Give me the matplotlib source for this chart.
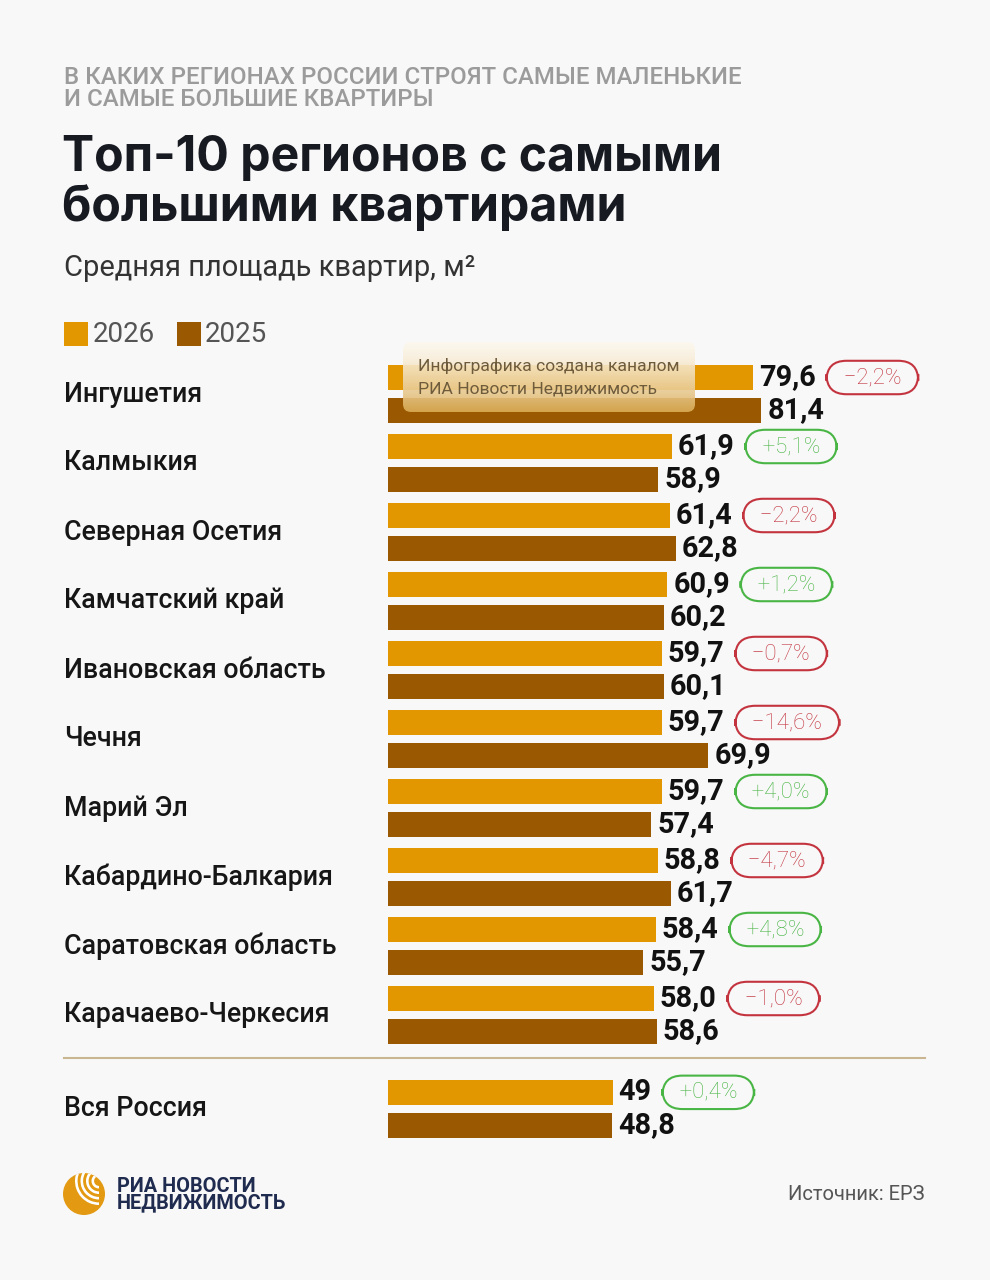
import numpy as np
import matplotlib.pyplot as plt
from matplotlib.patches import FancyBboxPatch, Rectangle, Circle, Wedge

plt.rcParams['font.family'] = ['Roboto', 'DejaVu Sans']

# data
regions = ['Ингушетия', 'Калмыкия', 'Северная Осетия', 'Камчатский край',
           'Ивановская область', 'Чечня', 'Марий Эл', 'Кабардино-Балкария',
           'Саратовская область', 'Карачаево-Черкесия', 'Вся Россия']
area_2026 = [79.6, 61.9, 61.4, 60.9, 59.7, 59.7, 59.7, 58.8, 58.4, 58.0, 49.0]
area_2025 = [81.4, 58.9, 62.8, 60.2, 60.1, 69.9, 57.4, 61.7, 55.7, 58.6, 48.8]
labels_2026 = ['79,6', '61,9', '61,4', '60,9', '59,7', '59,7', '59,7', '58,8', '58,4', '58,0', '49']
changes = ['−2,2%', '+5,1%', '−2,2%', '+1,2%', '−0,7%', '−14,6%', '+4,0%',
           '−4,7%', '+4,8%', '−1,0%', '+0,4%']

C26 = '#E29700'
C25 = '#9A5900'
BG = '#F8F8F8'
RED = '#C3343F'
GREEN = '#49B545'

W, H = 990, 1280
fig = plt.figure(figsize=(W / 100, H / 100), dpi=100, facecolor=BG)

# overlay in pixel coordinates for the decorative text
bg = fig.add_axes([0, 0, 1, 1])
bg.set_xlim(0, W)
bg.set_ylim(H, 0)
bg.axis('off')

# header
bg.text(64, 77, 'В КАКИХ РЕГИОНАХ РОССИИ СТРОЯТ САМЫЕ МАЛЕНЬКИЕ', fontsize=17.3,
        fontweight='medium', color='#9b9b9b', va='center', ha='left')
bg.text(64, 99, 'И САМЫЕ БОЛЬШИЕ КВАРТИРЫ', fontsize=17.3,
        fontweight='medium', color='#9b9b9b', va='center', ha='left')
bg.text(62, 183, 'Топ-10 регионов с самыми\nбольшими квартирами', fontsize=34.7,
        fontweight='bold', color='#181a22', va='center', ha='left', linespacing=1.08,
        family=['Inter', 'DejaVu Sans'])
bg.text(64, 268, 'Средняя площадь квартир, м²', fontsize=20.9, color='#333333',
        va='center', ha='left')

# legend
bg.add_patch(Rectangle((64, 322), 24, 24, color=C26, lw=0))
bg.text(93, 334, '2026', fontsize=20, color='#555555', va='center', ha='left')
bg.add_patch(Rectangle((177, 322), 24, 24, color=C25, lw=0))
bg.text(205, 334, '2025', fontsize=20, color='#555555', va='center', ha='left')

# bar axes: 4.585 px per m², group spacing 69 px
px_per_unit = 4.585
x0_px, x1_px = 388, W
y0_px, y1_px = 340, 1150
pos = np.array([0, 1, 2, 3, 4, 5, 6, 7, 8, 9, 10.36])
ax = fig.add_axes([x0_px / W, 1 - y1_px / H, (x1_px - x0_px) / W, (y1_px - y0_px) / H])
ax.set_xlim(0, (x1_px - x0_px) / px_per_unit)
ax.set_ylim((y1_px - 394) / 69, (y0_px - 394) / 69)
ax.axis('off')

bh = 25 / 69
off = 16.5 / 69
ax.barh(pos - off, area_2026, height=bh, color=C26, lw=0)
ax.barh(pos + off, area_2025, height=bh, color=C25, lw=0)

for i in range(len(regions)):
    t = ax.annotate(labels_2026[i], xy=(area_2026[i], pos[i] - off), xytext=(6, 0),
                    textcoords='offset pixels', fontsize=20.8, fontweight='bold',
                    color='#111111', va='center', ha='left')
    ax.annotate(f'{area_2025[i]:.1f}'.replace('.', ','), xy=(area_2025[i], pos[i] + off),
                xytext=(6, 0), textcoords='offset pixels', fontsize=20.8,
                fontweight='bold', color='#111111', va='center', ha='left')
    col = GREEN if changes[i].startswith('+') else RED
    ax.annotate('  ' + changes[i] + '  ', xy=(1, 0.5), xycoords=t, xytext=(17, 0),
                textcoords='offset pixels', fontsize=16, fontweight='light',
                color=col, va='center', ha='left',
                bbox=dict(boxstyle='round,pad=0.28,rounding_size=0.9', fc='none',
                          ec=col, lw=1.5))
    bg.text(64, 394 + 69 * pos[i], regions[i], fontsize=19.3, fontweight='medium',
            color='#161616', va='center', ha='left')

# separator before the Russia total
bg.plot([64, 925], [1058, 1058], color='#C9B690', lw=1.5)

# logo
logo = Circle((84, 1194), 21, color='#E39A12', lw=0)
bg.add_patch(logo)
for r in [6, 11.5, 17, 22.5]:
    wdg = Wedge((99, 1181), r + 1.5, 90, 280, width=2.6, color='white', lw=0)
    bg.add_patch(wdg)
    wdg.set_clip_path(logo)
bg.text(117, 1186, 'РИА НОВОСТИ', fontsize=14.3, fontweight='bold', color='#1f2b4f',
        va='center', ha='left')
bg.text(117, 1203, 'НЕДВИЖИМОСТЬ', fontsize=14.3, fontweight='bold', color='#1f2b4f',
        va='center', ha='left')

bg.text(925, 1195, 'Источник: ЕРЗ', fontsize=14.5, color='#555555', va='center', ha='right')

# watermark on top of the bars
top = fig.add_axes([0, 0, 1, 1])
top.set_xlim(0, W)
top.set_ylim(H, 0)
top.axis('off')
top.patch.set_alpha(0)
wx, wy, ww, wh = 403, 342, 292, 70
box = FancyBboxPatch((wx, wy), ww, wh, boxstyle='round,pad=0,rounding_size=8',
                     fc='none', ec='none')
top.add_patch(box)
grad = np.linspace(0, 1, 100)[:, None]
c_top = np.array([0.99, 0.97, 0.93])
c_bot = np.array([0.86, 0.68, 0.34])
img = c_top + (c_bot - c_top) * grad[..., None] ** 1.4
img = np.concatenate([img, np.full((100, 1, 1), 0.9)], axis=2)
im = top.imshow(img, extent=(wx, wx + ww, wy + wh, wy), aspect='auto',
                interpolation='bilinear')
im.set_clip_path(box)
top.set_xlim(0, W)
top.set_ylim(H, 0)
top.text(418, 366, 'Инфографика создана каналом', fontsize=12.6, color='#6e5b3c',
         va='center', ha='left')
top.text(418, 389, 'РИА Новости Недвижимость', fontsize=12.6, color='#6e5b3c',
         va='center', ha='left')

fig.savefig('out.png', dpi=100, facecolor=BG)
